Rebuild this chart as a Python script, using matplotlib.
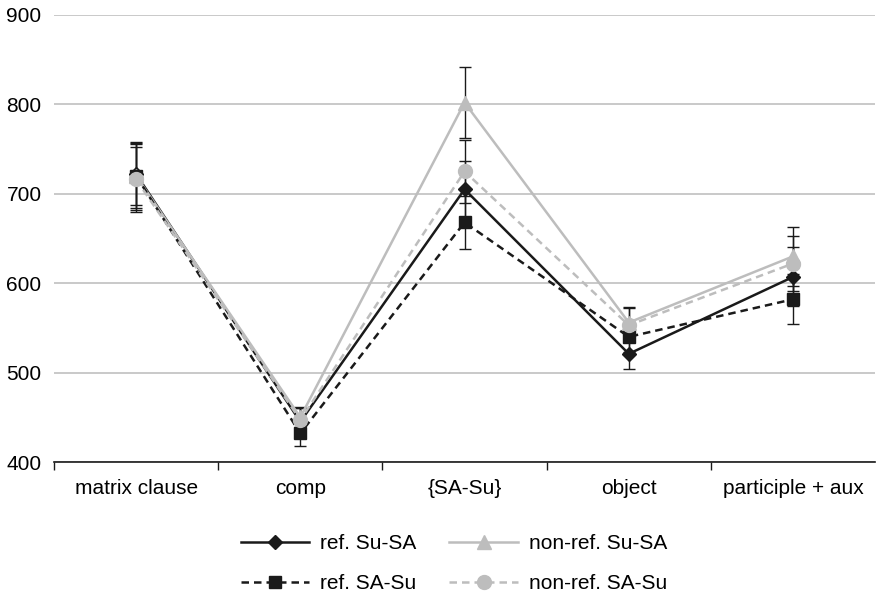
import matplotlib
matplotlib.use("Agg")
import matplotlib.pyplot as plt
import numpy as np

plt.rcParams["font.family"] = ["Liberation Sans", "DejaVu Sans"]

categories = ["matrix clause", "comp", "{SA-Su}", "object", "participle + aux"]

ref_su_sa = [722, 445, 705, 521, 607]
ref_su_sa_err = [35, 15, 32, 17, 33]
ref_sa_su = [720, 432, 668, 540, 582]
ref_sa_su_err = [38, 14, 30, 17, 28]
nonref_su_sa = [720, 450, 802, 556, 630]
nonref_su_sa_err = [36, 11, 40, 17, 33]
nonref_sa_su = [716, 447, 725, 553, 622]
nonref_sa_su_err = [36, 13, 35, 19, 31]

dark = "#1a1a1a"
light = "#bdbdbd"

fig = plt.figure(figsize=(8.76, 5.98), dpi=100)
ax = fig.add_axes([54 / 876, 136 / 598, 1 - 54 / 876 - 0.001, (462 - 15) / 598])

x = np.arange(len(categories))

series = [
    (ref_su_sa, ref_su_sa_err, dark, "-", "D", 7.5, "ref. Su-SA"),
    (nonref_su_sa, nonref_su_sa_err, light, "-", "^", 9.5, "non-ref. Su-SA"),
    (ref_sa_su, ref_sa_su_err, dark, (0, (3, 2)), "s", 8, "ref. SA-Su"),
    (nonref_sa_su, nonref_sa_su_err, light, (0, (3, 2)), "o", 10, "non-ref. SA-Su"),
]

for vals, errs, color, ls, marker, ms, label in series:
    ax.errorbar(x, vals, yerr=errs, fmt="none", ecolor=dark, elinewidth=1.0,
                capsize=4.5, capthick=1.0, zorder=2)

handles = {}
for vals, errs, color, ls, marker, ms, label in series:
    (h,) = ax.plot(x, vals, color=color, linestyle=ls, linewidth=1.8, marker=marker,
                   markersize=ms, markerfacecolor=color, markeredgecolor=color,
                   label=label, zorder=3)
    handles[label] = h

ax.set_xlim(-0.5, len(categories) - 0.5)
ax.set_ylim(400, 900)
ax.set_yticks(np.arange(400, 901, 100))
ax.yaxis.grid(True, color="#c0c0c0", linewidth=1.2)
ax.set_axisbelow(True)

ax.set_xticks(x)
ax.set_xticklabels(categories)
ax.set_xticks(np.arange(-0.5, len(categories) - 0.6, 1), minor=True)
ax.tick_params(axis="x", which="major", length=0, pad=12, labelsize=15)
ax.tick_params(axis="x", which="minor", length=6, width=1, direction="out", color=dark)
ax.tick_params(axis="y", length=0, pad=9, labelsize=15)

for side in ["top", "right", "left"]:
    ax.spines[side].set_visible(False)
ax.spines["bottom"].set_color(dark)
ax.spines["bottom"].set_linewidth(1.2)

order = ["ref. Su-SA", "ref. SA-Su", "non-ref. Su-SA", "non-ref. SA-Su"]
fig.legend([handles[k] for k in order], order, loc="center", ncol=2,
           bbox_to_anchor=(0.518, 0.057), frameon=False, fontsize=15,
           handlelength=3.3, columnspacing=1.6, labelspacing=1.0, handletextpad=0.5)

fig.savefig("out.png", dpi=100)
